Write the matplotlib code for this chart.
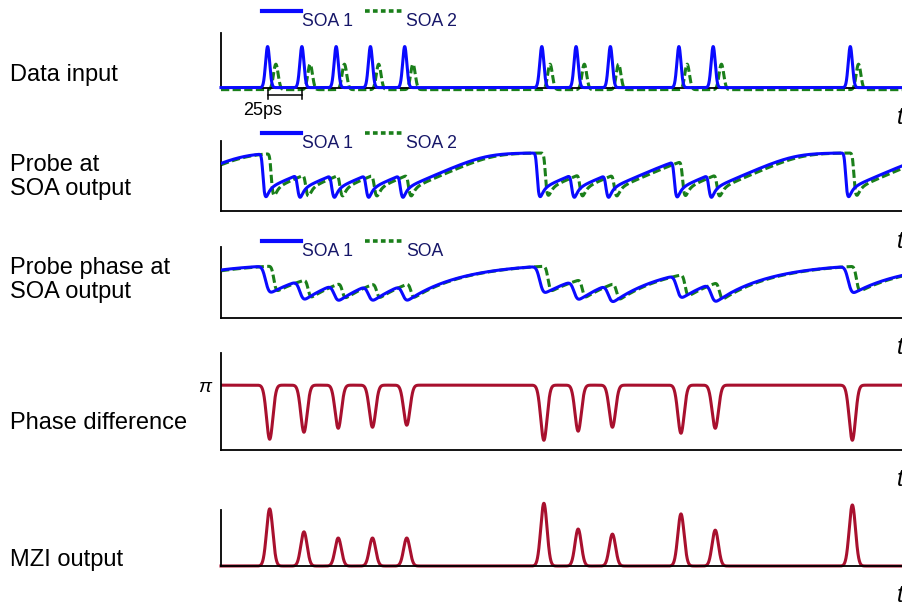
import numpy as np
import matplotlib
matplotlib.use('Agg')
import matplotlib.pyplot as plt
from matplotlib.lines import Line2D

plt.rcParams['font.family'] = ['Liberation Sans', 'DejaVu Sans']

# bit slots that carry a "1" (slot period 25 ps)
period = 25.0
t_first = 34.0
slots = [0, 1, 2, 3, 4, 8, 9, 10, 12, 13, 17]
soa2_delay = 6.0

# data input pulse heights
in_soa1 = 1.0
in_soa2 = 0.62

# probe gain at SOA output (axis units)
gain_max = 0.83
gain_start = [0.68, 0.66]
gain_floor = [0.31, 0.32]
gain_fast = [0.25, 0.23]

# probe phase at SOA output: drop caused by each pulse
phase_max = 0.775
phase_start = [0.676, 0.665]
phase_drop_soa1 = [0.42, 0.32, 0.28, 0.27, 0.27, 0.42, 0.32, 0.30, 0.37, 0.31, 0.42]
phase_drop_soa2 = [0.38, 0.29, 0.25, 0.24, 0.24, 0.38, 0.29, 0.27, 0.34, 0.28, 0.38]

# phase difference dips (rad below pi) and MZI output peaks
phase_dip = [2.62, 2.28, 2.09, 2.04, 1.94, 2.67, 2.23, 2.04, 2.33, 2.09, 2.67]
mzi_peak = [1.02, 0.61, 0.50, 0.50, 0.50, 1.12, 0.66, 0.57, 0.93, 0.64, 1.09]

blue = '#0a0aff'
green = '#1a7f1a'
red = '#a8102e'
navy = '#161668'

W, H = 903, 606
dt = 0.05
t = np.arange(0, 497.5, dt)
t_slot = t_first + period * np.array(slots)


def fx(x):
    return x / W


def fy(y):
    return 1 - y / H


def gauss(tc, s):
    return np.exp(-0.5 * ((t - tc) / s) ** 2)


def drive(times, weights, s):
    p = np.zeros_like(t)
    for tc, w in zip(times, weights):
        p += w * gauss(tc, s) / (s * np.sqrt(2 * np.pi))
    return p


def gain_trace(times, g0, floor, fast):
    p = drive(times, np.ones(len(times)), 1.1)
    g = np.empty_like(t)
    h = np.zeros_like(t)
    g[0] = g0
    for k in range(1, len(t)):
        rise = 0.0085 * (1 - np.exp(-(gain_max - g[k - 1]) / 0.08))
        g[k] = g[k - 1] + dt * (rise - 4.0 * p[k - 1] * (g[k - 1] - floor))
        h[k] = h[k - 1] + dt * (-h[k - 1] / 2.5 + fast * p[k - 1])
    return g - h


def phase_trace(times, drops, ph0, s):
    p = drive(times, drops, s)
    ph = np.empty_like(t)
    ph[0] = ph0
    for k in range(1, len(t)):
        ph[k] = ph[k - 1] + dt * ((phase_max - ph[k - 1]) / 40.0 - p[k - 1])
    return ph


fig = plt.figure(figsize=(W / 100, H / 100), dpi=100)


def panel(top, bottom):
    ax = fig.add_axes([fx(221), fy(bottom), fx(W) - fx(221), (bottom - top) / H])
    ax.spines['top'].set_visible(False)
    ax.spines['right'].set_visible(False)
    ax.spines['left'].set_linewidth(1.3)
    ax.spines['bottom'].set_linewidth(1.3)
    ax.set_xticks([])
    ax.set_yticks([])
    ax.set_xlim(0, t[-1])
    fig.text(fx(897), fy(bottom + 30), 't', fontsize=17, fontstyle='italic',
             ha='left', va='center')
    return ax


def legend(y, second='SOA 2'):
    fig.add_artist(Line2D([fx(262), fx(301)], [fy(y), fy(y)], color=blue, lw=3))
    fig.add_artist(Line2D([fx(365), fx(402)], [fy(y), fy(y)], color=green, lw=2.6,
                          linestyle=(0, (1.3, 0.9))))
    fig.text(fx(302), fy(y + 11), 'SOA 1', fontsize=12.7, color=navy, va='center')
    fig.text(fx(406), fy(y + 11), second, fontsize=12.7, color=navy, va='center')


# data input
ax1 = panel(33, 88)
ax1.set_ylim(0, 1.34)
sig1 = 0.01 + sum(in_soa1 * gauss(tc, 1.5) for tc in t_slot)
sig2 = -0.04 + sum(in_soa2 * gauss(tc + soa2_delay, 1.7) for tc in t_slot)
ax1.plot(t, sig2, color=green, lw=2.2, linestyle=(0, (2.7, 1.1)), clip_on=False)
ax1.plot(t, sig1, color=blue, lw=2.2, clip_on=False, zorder=3)
yb = -0.17
ax1.plot([t_slot[0], t_slot[0] + period], [yb, yb], color='black', lw=1.1, clip_on=False)
for xb in [t_slot[0], t_slot[0] + period]:
    ax1.plot([xb, xb], [-0.05, -0.27], color='black', lw=1.1, clip_on=False)
ax1.text(30, -0.54, '25ps', fontsize=13, ha='center', va='center')
legend(11)

# probe gain
ax2 = panel(141, 211)
ax2.set_ylim(0, 1)
g1 = gain_trace(t_slot - 2.5, gain_start[0], gain_floor[0], gain_fast[0])
g2 = gain_trace(t_slot - 2.5 + soa2_delay, gain_start[1], gain_floor[1], gain_fast[1])
ax2.plot(t, g2, color=green, lw=2.2, linestyle=(0, (2.7, 1.1)))
ax2.plot(t, g1, color=blue, lw=2.2, zorder=3)
legend(133)

# probe phase
ax3 = panel(247, 318)
ax3.set_ylim(0, 1)
p1 = phase_trace(t_slot - 1.5, phase_drop_soa1, phase_start[0], 2.0)
p2 = phase_trace(t_slot - 1.5 + soa2_delay, phase_drop_soa2, phase_start[1], 1.3)
ax3.plot(t, p2, color=green, lw=2.2, linestyle=(0, (2.7, 1.1)))
ax3.plot(t, p1, color=blue, lw=2.2, zorder=3)
legend(241, 'SOA')

# phase difference
ax4 = panel(353, 450)
ax4.set_ylim(0, 4.7)
diff = np.pi - sum(d * gauss(tc + 1.5, 2.3) for tc, d in zip(t_slot, phase_dip))
ax4.plot(t, diff, color=red, lw=2.2)
ax4.set_yticks([np.pi], ['π'])
ax4.tick_params(axis='y', length=0, pad=7, labelsize=14)
for lab in ax4.get_yticklabels():
    lab.set_fontstyle('italic')

# MZI output
ax5 = panel(510, 566)
ax5.set_ylim(0, 1)
mzi = sum(a * gauss(tc + 1.5, 2.3) for tc, a in zip(t_slot, mzi_peak))
ax5.plot(t, mzi, color=red, lw=2.2, clip_on=False)

# row labels
labels = [('Data input', 75), ('Probe at\nSOA output', 177),
          ('Probe phase at\nSOA output', 280), ('Phase difference', 423),
          ('MZI output', 560)]
for txt, y in labels:
    fig.text(fx(10), fy(y), txt, fontsize=17, va='center', ha='left', linespacing=1.15)

fig.savefig('out.png', dpi=100)
